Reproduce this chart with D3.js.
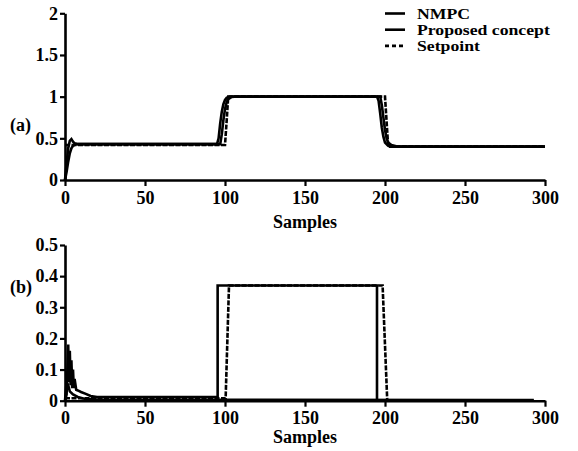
<!DOCTYPE html>
<html>
<head>
<meta charset="utf-8">
<script src="https://cdn.jsdelivr.net/npm/d3@7"></script>
<style>
  html, body { margin: 0; padding: 0; background: #fff; }
  svg text { font-family: "Liberation Serif", "Times New Roman", serif; font-weight: bold; font-size: 18px; fill: #000; }
  svg .legend text { font-size: 15px; }
</style>
</head>
<body>
<svg id="chart" width="578" height="451"></svg>
<script>
// Panel (a): output response, [sample, value]
const outNmpc = [[0,0],[1,0.2],[2,0.38],[3,0.47],[4,0.49],[5,0.46],[6,0.44],[8,0.43],[95,0.43],[96,0.5],[97,0.68],[98,0.82],[99,0.91],[100,0.96],[101,0.985],[103,1.0],[195,1.0],[196,0.95],[197,0.8],[198,0.63],[199,0.52],[200,0.45],[202,0.41],[205,0.40],[300,0.40]];
const outProposed = [[0,0],[1,0.1],[2,0.22],[3,0.32],[4,0.38],[5,0.41],[7,0.43],[97,0.43],[98,0.55],[99,0.72],[100,0.85],[101,0.93],[102,0.97],[104,0.995],[106,1.0],[197,1.0],[198,0.9],[199,0.75],[200,0.6],[201,0.5],[202,0.45],[204,0.42],[207,0.405],[212,0.40],[300,0.40]];
const outSetpoint = [[0,0.42],[100,0.42],[101,0.7],[102,1.0],[200,1.0],[201,0.7],[202,0.40],[300,0.40]];

// Panel (b): control effort, [sample, value]
const ctlNmpc = [[0,0],[1,0.02],[2,0.18],[2.5,0.06],[3,0.16],[3.5,0.05],[4,0.13],[4.5,0.04],[5,0.1],[5.5,0.04],[6,0.07],[7,0.035],[8,0.033],[10,0.028],[13,0.022],[16,0.015],[20,0.012],[95.4,0.012],[95.4,0.37],[195,0.37],[195,0],[293,0]];
const ctlProposed = [[0,0],[1,0.06],[2,0.05],[3,0.03],[5,0.02],[8,0.012],[12,0.006],[20,0.004],[293,0.002]];
const ctlReference = [[0,0.008],[100.4,0.008],[102.5,0.37],[198.5,0.37],[201.4,0],[293,0]];

const xTicks = [0, 50, 100, 150, 200, 250, 300];
const yTicksA = [0, 0.5, 1, 1.5, 2];
const yTicksB = [0, 0.1, 0.2, 0.3, 0.4, 0.5];
const legendLabels = ["NMPC", "Proposed concept", "Setpoint"];

const svg = d3.select("#chart");

const x = d3.scaleLinear().domain([0, 300]).range([65, 545]);
const yA = d3.scaleLinear().domain([0, 2]).range([180, 13.3]);
const yB = d3.scaleLinear().domain([0, 0.5]).range([400.7, 245]);

function drawAxes(y, yTicks, xAxisY, labelY, panelLabel, panelLabelY) {
  const gx = svg.append("g").attr("transform", `translate(0,${xAxisY})`)
    .call(d3.axisBottom(x).tickValues(xTicks).tickSize(6).tickSizeOuter(0).tickPadding(5).tickFormat(d3.format("d")));
  const gy = svg.append("g").attr("transform", `translate(${x(0)},0)`)
    .call(d3.axisLeft(y).tickValues(yTicks).tickSize(5).tickSizeOuter(0).tickPadding(2).tickFormat(d => String(d)));
  [gx, gy].forEach(g => {
    g.selectAll("path.domain").attr("stroke", "#000").attr("stroke-width", 2.6);
    g.selectAll(".tick line").attr("stroke", "#000").attr("stroke-width", 2.2);
    g.selectAll("text").attr("font-size", null).attr("font-family", null);
  });
  svg.append("text").attr("x", x(150)).attr("y", labelY).attr("text-anchor", "middle").text("Samples");
  svg.append("text").attr("x", 10).attr("y", panelLabelY).text(panelLabel);
}

drawAxes(yA, yTicksA, 180, 228, "(a)", 131);
drawAxes(yB, yTicksB, 400.7, 443, "(b)", 293);

function drawLine(data, y, dashed) {
  svg.append("path")
    .datum(data)
    .attr("fill", "none")
    .attr("stroke", "#000")
    .attr("stroke-width", 2.6)
    .attr("stroke-linejoin", "miter")
    .attr("stroke-dasharray", dashed ? "5,1.5" : null)
    .attr("d", d3.line().x(d => x(d[0])).y(d => y(d[1])));
}

drawLine(outNmpc, yA, false);
drawLine(outProposed, yA, false);
drawLine(outSetpoint, yA, true);

drawLine(ctlNmpc, yB, false);
drawLine(ctlProposed, yB, false);
drawLine(ctlReference, yB, true);

// Legend: compact rows, text widened horizontally
const legend = svg.append("g").attr("class", "legend");
legendLabels.forEach((lbl, i) => {
  const ly = 13.5 + i * 16.2;
  legend.append("line")
    .attr("x1", 385).attr("x2", 405).attr("y1", ly).attr("y2", ly)
    .attr("stroke", "#000").attr("stroke-width", 2.6)
    .attr("stroke-dasharray", i === 2 ? "4,3" : null);
  legend.append("text")
    .attr("transform", `translate(417,${ly + 5}) scale(1.18,1)`)
    .text(lbl);
});
</script>
</body>
</html>
